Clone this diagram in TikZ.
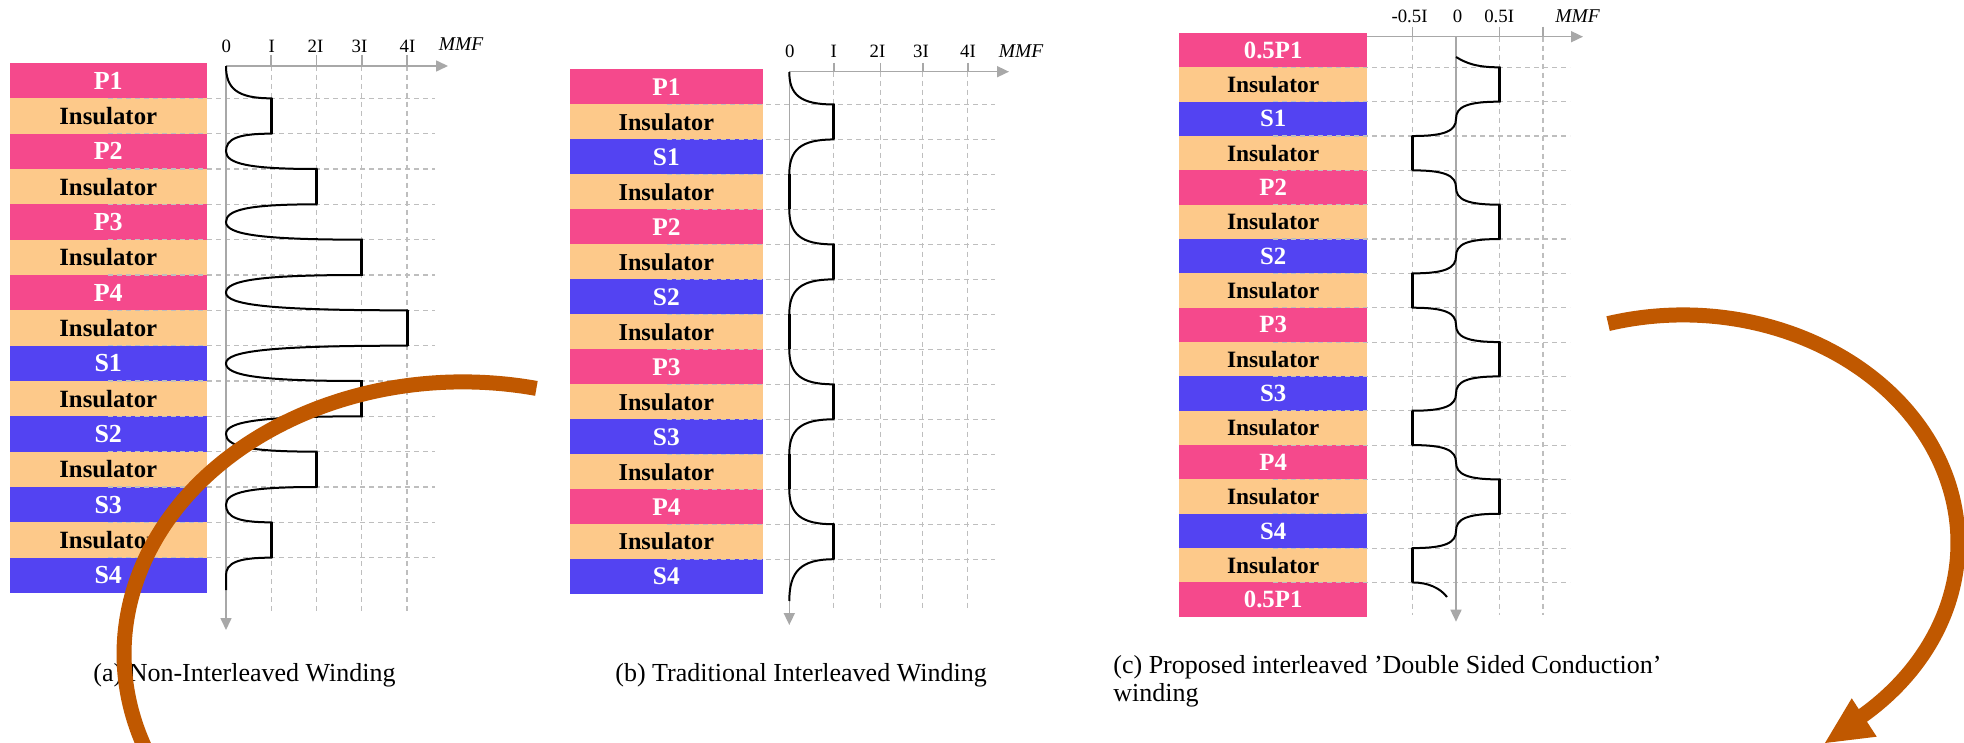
\documentclass[tikz,border=0pt]{standalone}
\usepackage{fontspec}
\setmainfont{Liberation Serif}
\usetikzlibrary{arrows.meta}
\definecolor{pcol}{RGB}{245,73,140}
\definecolor{icol}{RGB}{253,201,138}
\definecolor{scol}{RGB}{83,67,242}
\definecolor{axcol}{RGB}{168,168,168}
\definecolor{gridcol}{RGB}{190,190,190}
\definecolor{arccol}{RGB}{192,88,0}
\begin{document}
\begin{tikzpicture}[x=0.5pt,y=-0.5pt,
  barbox/.style={inner sep=0pt,outer sep=0pt},
  pbar/.style={barbox,fill=pcol,text=white,font=\bfseries\fontsize{\wsize}{14}\selectfont},
  ibar/.style={barbox,fill=icol,text=black,font=\bfseries\fontsize{\isize}{14}\selectfont},
  sbar/.style={barbox,fill=scol,text=white,font=\bfseries\fontsize{\wsize}{14}\selectfont},
  abar/.style={minimum width=98.25pt,minimum height=17.67pt},
  bbar/.style={minimum width=96.35pt,minimum height=17.49pt},
  cbar/.style={minimum width=94.15pt,minimum height=17.17pt},
  gridline/.style={draw=gridcol,line width=0.55pt,dash pattern=on 2.5pt off 2pt},
  axisline/.style={draw=axcol,line width=0.8pt},
  axisarrow/.style={axisline,-{Triangle[length=6pt,width=5.5pt]}},
  mmfcurve/.style={draw=black,line width=1pt},
  mmfvert/.style={draw=black,line width=1.5pt},
  ticklab/.style={inner sep=0pt,font=\fontsize{9.4}{11}\selectfont},
  mmflab/.style={inner sep=0pt,font=\itshape\fontsize{9.75}{11}\selectfont},
  captext/.style={inner sep=0pt,anchor=base west,font=\fontsize{13}{15}\selectfont},
  arcline/.style={draw=arccol,line width=7.5pt},
  mmfin/.style n args={4}{insert path={.. controls ({#3+0.25*(#1-#3)},#2) and (#3,{#2+0.3*(#4-#2)}) .. (#3,#4)}},
  mmfout/.style n args={4}{insert path={.. controls (#1,{#4+0.3*(#2-#4)}) and ({#1+0.25*(#3-#1)},#4) .. (#3,#4)}},
]
\fill[white] (0,0) rectangle (1964,743);
\useasboundingbox (0,0) rectangle (1964,743);

% ================= Panel (a) =================
\def\isize{12.4}\def\wsize{13.0}
\foreach \t/\c [count=\k from 0] in {P1/pbar,Insulator/ibar,P2/pbar,Insulator/ibar,P3/pbar,Insulator/ibar,P4/pbar,Insulator/ibar,S1/sbar,Insulator/ibar,S2/sbar,Insulator/ibar,S3/sbar,Insulator/ibar,S4/sbar}
  \node[\c,abar] (a\k) at (108.25,{63+35.333*(\k+0.5)}) {\t};
\foreach \k in {1,...,14}
  \draw[gridline] (108,{63+35.333*\k}) -- (435,{63+35.333*\k});
\foreach \x in {271.25,316.5,361.75,407}
  \draw[gridline] (\x,66) -- (\x,612);
\draw[axisarrow] (226,66) -- (448,66);
\draw[axisarrow] (226,66) -- (226,630);
\foreach \x in {271.25,316.5,361.75,407}
  \draw[axisline] (\x,55) -- (\x,66);
\node[ticklab] (at0) at (226.3,46.5) {0};
\node[ticklab] (at1) at (271.7,46.5) {I};
\node[ticklab] (at2) at (315.5,46.5) {2I};
\node[ticklab] (at3) at (359.5,46.5) {3I};
\node[ticklab] (at4) at (407.5,46.5) {4I};
\node[mmflab] (ammf) at (461,44.5) {MMF};
\draw[mmfcurve] (226,66) [mmfout={226}{66}{271.25}{98.33}] -- (271.25,133.67)
  [mmfin={271.25}{133.67}{226}{151.33}] [mmfout={226}{151.33}{316.5}{169}] -- (316.5,204.33)
  [mmfin={316.5}{204.33}{226}{222}] [mmfout={226}{222}{361.75}{239.67}] -- (361.75,275)
  [mmfin={361.75}{275}{226}{292.67}] [mmfout={226}{292.67}{407}{310.33}] -- (407,345.67)
  [mmfin={407}{345.67}{226}{363.33}] [mmfout={226}{363.33}{361.75}{381}] -- (361.75,416.33)
  [mmfin={361.75}{416.33}{226}{434}] [mmfout={226}{434}{316.5}{451.67}] -- (316.5,487)
  [mmfin={316.5}{487}{226}{504.67}] [mmfout={226}{504.67}{271.25}{522.33}] -- (271.25,557.67)
  [mmfin={271.25}{557.67}{226}{575.33}] -- (226,590);
\foreach \x/\ya/\yb in {271.25/98.33/133.67,316.5/169/204.33,361.75/239.67/275,407/310.33/345.67,361.75/381/416.33,316.5/451.67/487,271.25/522.33/557.67}
  \draw[mmfvert] (\x,\ya) -- (\x,\yb);
\node[captext] (capa) at (93,681) {(a) Non-Interleaved Winding};

% ================= Panel (b) =================
\def\isize{12.1}\def\wsize{12.7}
\foreach \t/\c [count=\k from 0] in {P1/pbar,Insulator/ibar,S1/sbar,Insulator/ibar,P2/pbar,Insulator/ibar,S2/sbar,Insulator/ibar,P3/pbar,Insulator/ibar,S3/sbar,Insulator/ibar,P4/pbar,Insulator/ibar,S4/sbar}
  \node[\c,bbar] (b\k) at (666.35,{69.5+34.98*(\k+0.5)}) {\t};
\foreach \k in {1,...,14}
  \draw[gridline] (667,{69.5+34.98*\k}) -- (995,{69.5+34.98*\k});
\foreach \x in {833.7,880.3,922.7,967.7}
  \draw[gridline] (\x,71.7) -- (\x,608);
\draw[axisarrow] (789.3,71.7) -- (1009,71.7);
\draw[axisarrow] (789.3,71.7) -- (789.3,625);
\foreach \x in {833.7,880.3,922.7,967.7}
  \draw[axisline] (\x,63) -- (\x,71.7);
\node[ticklab] (bt0) at (789.8,51.7) {0};
\node[ticklab] (bt1) at (833.7,51.7) {I};
\node[ticklab] (bt2) at (877.5,51.7) {2I};
\node[ticklab] (bt3) at (921,51.7) {3I};
\node[ticklab] (bt4) at (968,51.7) {4I};
\node[mmflab] (bmmf) at (1021,51) {MMF};
\draw[mmfcurve] (789.3,72) [mmfout={789.3}{72}{833.7}{104.48}] -- (833.7,139.46)
  [mmfin={833.7}{139.46}{789.3}{174.44}] -- (789.3,209.42)
  [mmfout={789.3}{209.42}{833.7}{244.4}] -- (833.7,279.38)
  [mmfin={833.7}{279.38}{789.3}{314.36}] -- (789.3,349.34)
  [mmfout={789.3}{349.34}{833.7}{384.32}] -- (833.7,419.3)
  [mmfin={833.7}{419.3}{789.3}{454.28}] -- (789.3,489.26)
  [mmfout={789.3}{489.26}{833.7}{524.24}] -- (833.7,559.22)
  [mmfin={833.7}{559.22}{789.3}{601}];
\foreach \x/\ya/\yb in {833.7/104.48/139.46,833.7/244.4/279.38,833.7/384.32/419.3,833.7/524.24/559.22,789.3/174.44/209.42,789.3/314.36/349.34,789.3/454.28/489.26}
  \draw[mmfvert] (\x,\ya) -- (\x,\yb);
\node[captext] (capb) at (615,681) {(b) Traditional Interleaved Winding};

% ================= Panel (c) =================
\def\isize{11.7}\def\wsize{12.4}
\foreach \t/\c [count=\k from 0] in {0.5P1/pbar,Insulator/ibar,S1/sbar,Insulator/ibar,P2/pbar,Insulator/ibar,S2/sbar,Insulator/ibar,P3/pbar,Insulator/ibar,S3/sbar,Insulator/ibar,P4/pbar,Insulator/ibar,S4/sbar,Insulator/ibar,0.5P1/pbar}
  \node[\c,cbar] (c\k) at (1273.15,{33+34.34*(\k+0.5)}) {\t};
\foreach \k in {1,...,16}
  \draw[gridline] (1273,{33+34.34*\k}) -- (1570,{33+34.34*\k});
\foreach \x in {1412.5,1499.5,1543}
  \draw[gridline] (\x,36.7) -- (\x,615);
\draw[axisarrow] (1367.3,36.7) -- (1583,36.7);
\draw[axisarrow] (1456,36.7) -- (1456,621.7);
\foreach \x in {1412.5,1499.5,1543}
  \draw[axisline] (\x,26.7) -- (\x,36.7);
\node[ticklab] (ctm) at (1409.5,16.7) {-0.5I};
\node[ticklab] (ct0) at (1457.5,16.7) {0};
\node[ticklab] (ctp) at (1499.2,16.7) {0.5I};
\node[mmflab] (cmmf) at (1577.5,16) {MMF};
\draw[mmfcurve] (1456,57) .. controls (1466,63) and (1476,67.34) .. (1499.5,67.34) -- (1499.5,101.68)
  [mmfin={1499.5}{101.68}{1456}{118.85}] [mmfout={1456}{118.85}{1412.5}{136.02}] -- (1412.5,170.36)
  [mmfin={1412.5}{170.36}{1456}{187.53}] [mmfout={1456}{187.53}{1499.5}{204.7}] -- (1499.5,239.04)
  [mmfin={1499.5}{239.04}{1456}{256.21}] [mmfout={1456}{256.21}{1412.5}{273.38}] -- (1412.5,307.72)
  [mmfin={1412.5}{307.72}{1456}{324.89}] [mmfout={1456}{324.89}{1499.5}{342.06}] -- (1499.5,376.4)
  [mmfin={1499.5}{376.4}{1456}{393.57}] [mmfout={1456}{393.57}{1412.5}{410.74}] -- (1412.5,445.08)
  [mmfin={1412.5}{445.08}{1456}{462.25}] [mmfout={1456}{462.25}{1499.5}{479.42}] -- (1499.5,513.76)
  [mmfin={1499.5}{513.76}{1456}{530.93}] [mmfout={1456}{530.93}{1412.5}{548.1}] -- (1412.5,582.44)
  .. controls (1428,582.44) and (1440,588) .. (1447,597);
\foreach \x/\ya/\yb in {1499.5/67.34/101.68,1499.5/204.7/239.04,1499.5/342.06/376.4,1499.5/479.42/513.76,1412.5/136.02/170.36,1412.5/273.38/307.72,1412.5/410.74/445.08,1412.5/548.1/582.44}
  \draw[mmfvert] (\x,\ya) -- (\x,\yb);
\node[captext] (capc1) at (1113,673) {(c) Proposed interleaved ’Double Sided Conduction’};
\node[captext] (capc2) at (1113,701) {winding};

% ================= Orange arcs =================
\draw[arcline] (536.4,388.4) arc[start angle=-77.5,end angle=-205,x radius=339,y radius=272];
\draw[arcline] (1608.1,323.6) arc[start angle=-105.8,end angle=50.5,x radius=275,y radius=228];
\fill[arccol] (1825,743) -- (1851.7,698.3) -- (1876.7,736.7) -- cycle;
\end{tikzpicture}
\end{document}
